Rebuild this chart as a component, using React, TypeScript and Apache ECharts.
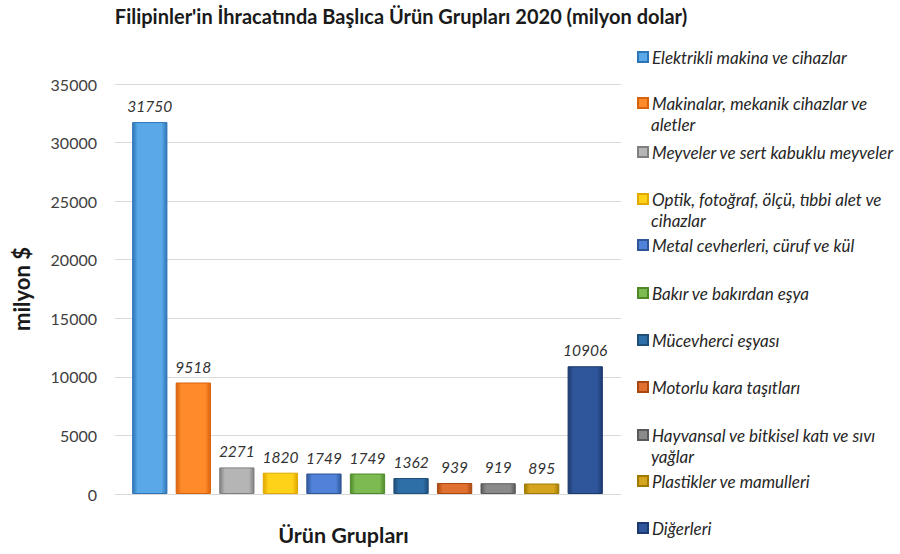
import React, { useEffect, useRef } from "react";
import * as echarts from "echarts";

const categories = [
  "Elektrikli makina ve cihazlar",
  "Makinalar, mekanik cihazlar ve aletler",
  "Meyveler ve sert kabuklu meyveler",
  "Optik, fotoğraf, ölçü, tıbbi alet ve cihazlar",
  "Metal cevherleri, cüruf ve kül",
  "Bakır ve bakırdan eşya",
  "Mücevherci eşyası",
  "Motorlu kara taşıtları",
  "Hayvansal ve bitkisel katı ve sıvı yağlar",
  "Plastikler ve mamulleri",
  "Diğerleri",
];
const legendFirstLines = [
  "Elektrikli makina ve cihazlar",
  "Makinalar, mekanik cihazlar ve",
  "Meyveler ve sert kabuklu meyveler",
  "Optik, fotoğraf, ölçü, tıbbi alet ve",
  "Metal cevherleri, cüruf ve kül",
  "Bakır ve bakırdan eşya",
  "Mücevherci eşyası",
  "Motorlu kara taşıtları",
  "Hayvansal ve bitkisel katı ve sıvı",
  "Plastikler ve mamulleri",
  "Diğerleri",
];
const legendSecondLines = ["", "aletler", "", "cihazlar", "", "", "", "", "yağlar", "", ""];
const values = [31750, 9518, 2271, 1820, 1749, 1749, 1362, 939, 919, 895, 10906];
const colors = [
  ["#5aa8e8", "#2e75b6"],
  ["#ff8a2a", "#d9620c"],
  ["#b5b5b5", "#808080"],
  ["#ffd21a", "#e0a800"],
  ["#4f82d8", "#2f5597"],
  ["#7dbb52", "#4f8a2a"],
  ["#2f6fa8", "#1f4e79"],
  ["#e07030", "#a84810"],
  ["#8a8a8a", "#595959"],
  ["#d6a520", "#a07a00"],
  ["#2f559a", "#1c3a6e"],
];
const yTicks = [0, 5000, 10000, 15000, 20000, 25000, 30000, 35000];
const legendCenters = [57, 103, 152, 199, 245, 293, 340, 387, 435, 481, 528];

export default function App() {
  const ref = useRef<HTMLDivElement>(null);
  useEffect(() => {
    if (!ref.current) return;
    const chart = echarts.init(ref.current, undefined, { renderer: "svg" });
    const font = "Lato, 'Open Sans', sans-serif";
    const legendFont = 17;
    const series = categories.map((name, i) => ({
      name,
      type: "bar",
      stack: "all",
      xAxisIndex: 1,
      yAxisIndex: 1,
      barWidth: "81%",
      data: values.map((v, j) => (j === i ? v : "-")),
      itemStyle: {
        color: new echarts.graphic.LinearGradient(0, 0, 1, 0, [
          { offset: 0, color: colors[i][1] },
          { offset: 0.15, color: colors[i][0] },
          { offset: 0.85, color: colors[i][0] },
          { offset: 1, color: colors[i][1] },
        ]),
        borderColor: colors[i][1],
        borderWidth: 1,
      },
      label: {
        show: true,
        position: "top",
        distance: 8,
        fontFamily: font,
        fontStyle: "italic",
        fontSize: 15.5,
        color: "#333",
      },
    }));
    const legends = categories.map((name, i) => ({
      data: [name],
      left: 637,
      top: legendCenters[i] - 10,
      padding: 0,
      orient: "vertical",
      icon: "rect",
      itemWidth: 10,
      itemHeight: 10,
      itemGap: 0,
      selectedMode: false,
      formatter: () => legendFirstLines[i],
      textStyle: {
        fontFamily: font,
        fontStyle: "italic",
        fontSize: legendFont,
        color: "#262626",
        lineHeight: 20,
        padding: [0, 0, 0, -1],
      },
    }));
    const secondLines = legendSecondLines
      .map((t, i) => ({ t, i }))
      .filter((o) => o.t)
      .map((o) => ({
        type: "text",
        left: 651,
        top: legendCenters[o.i] + 21 - 10,
        style: {
          text: o.t,
          fontFamily: font,
          fontStyle: "italic",
          fontSize: legendFont,
          fill: "#262626",
          lineHeight: 20,
        },
      }));
    chart.setOption({
      animation: false,
      backgroundColor: "#fff",
      title: {
        text: "Filipinler'in İhracatında Başlıca Ürün Grupları 2020 (milyon dolar)",
        left: 401,
        textAlign: "center",
        top: 4,
        padding: 0,
        textStyle: { fontFamily: font, fontWeight: "bold", fontSize: 20, color: "#1a1a1a", lineHeight: 24 },
      },
      legend: legends,
      graphic: secondLines,
      grid: [
        { left: 115, right: 279, top: 84, bottom: 60 },
        { left: 128, right: 293, top: 84, bottom: 60 },
      ],
      xAxis: [
        { type: "category", gridIndex: 0, data: categories, show: false },
        {
          type: "category",
          gridIndex: 1,
          data: categories,
          axisLine: { show: false },
          axisTick: { show: false },
          axisLabel: { show: false },
          name: "Ürün Grupları",
          nameLocation: "middle",
          nameGap: 30,
          nameTextStyle: {
            fontFamily: font,
            fontWeight: "bold",
            fontSize: 21.5,
            color: "#1a1a1a",
            padding: [0, 48, 0, 0],
          },
        },
      ],
      yAxis: [
        {
          type: "value",
          gridIndex: 0,
          min: 0,
          max: 35000,
          interval: 5000,
          axisLine: { show: false },
          axisTick: { show: false },
          splitLine: { show: true, lineStyle: { color: "#d9d9d9", width: 1 } },
          axisLabel: {
            margin: 18,
            fontFamily: font,
            fontSize: 16,
            color: "#404040",
            formatter: (v: number) => (yTicks.includes(v) ? String(v) : ""),
          },
          name: "milyon $",
          nameLocation: "middle",
          nameRotate: 90,
          nameGap: 83,
          nameTextStyle: { fontFamily: font, fontWeight: "bold", fontSize: 22, color: "#1a1a1a" },
        },
        {
          type: "value",
          gridIndex: 1,
          min: 0,
          max: 35000,
          interval: 5000,
          show: false,
          splitLine: { show: false },
        },
      ],
      series,
    });
    return () => chart.dispose();
  }, []);
  return (
    <div
      ref={ref}
      style={{ position: "absolute", left: 0, top: 0, width: 900, height: 554 }}
    />
  );
}
